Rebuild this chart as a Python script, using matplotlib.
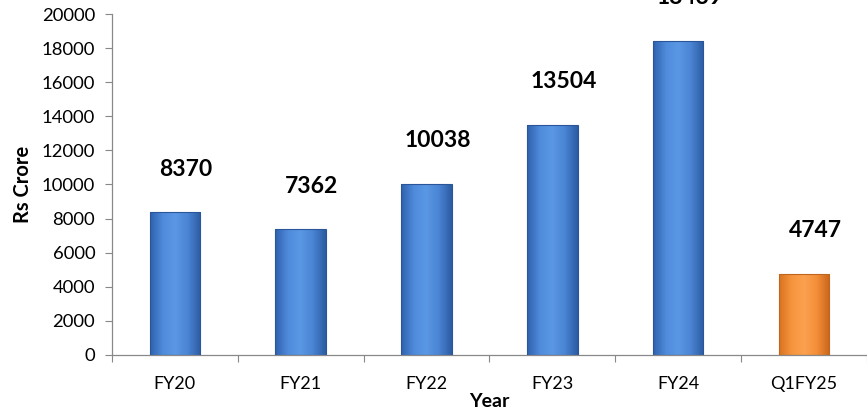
import numpy as np
import matplotlib.pyplot as plt
from matplotlib.colors import LinearSegmentedColormap

# Values (Rs Crore per year)
YEARS = ['FY20', 'FY21', 'FY22', 'FY23', 'FY24', 'Q1FY25']
VALUES = [8370, 7362, 10038, 13504, 18439, 4747]
YTICKS = [0, 2000, 4000, 6000, 8000, 10000, 12000, 14000, 16000, 18000, 20000]

BLUE_SHADES = ['#2F62AE', '#4F8BDB', '#5A97E4', '#4A84D4', '#2C5CA3']
ORANGE_SHADES = ['#D9731F', '#F7953F', '#FBA14F', '#F38E39', '#C9661A']

plt.rcParams['font.family'] = ['Lato', 'DejaVu Sans']


def shade_bar(ax, bar, shades):
    """Fill a bar patch with a left-to-right cylinder-like gradient."""
    cmap = LinearSegmentedColormap.from_list('bar', shades)
    x0, y0 = bar.get_x(), bar.get_y()
    w, h = bar.get_width(), bar.get_height()
    grad = np.linspace(0, 1, 64).reshape(1, -1)
    im = ax.imshow(grad, cmap=cmap, aspect='auto', interpolation='bicubic',
                   extent=(x0, x0 + w, y0, y0 + h), zorder=2)
    im.set_clip_path(bar)


fig = plt.figure(figsize=(8.67, 4.18), dpi=100)
ax = fig.add_axes([0.129, 0.151, 0.871, 0.8155])

x = np.arange(len(YEARS))
bars = ax.bar(x, VALUES, width=0.4, color='none',
              edgecolor='#2A5699', linewidth=0.8, zorder=3)

for i, bar in enumerate(bars):
    shades = ORANGE_SHADES if YEARS[i] == 'Q1FY25' else BLUE_SHADES
    if YEARS[i] == 'Q1FY25':
        bar.set_edgecolor('#C0651E')
    shade_bar(ax, bar, shades)
    ax.annotate(f'{VALUES[i]}', (bar.get_x() + bar.get_width() / 2, VALUES[i]),
                xytext=(11, 43), textcoords='offset pixels',
                ha='center', va='center', fontsize=16.5, fontweight='bold',
                color='black', annotation_clip=False)

ax.set_xlim(-0.5, len(YEARS) - 0.5)
ax.set_ylim(0, 20000)
ax.set_yticks(YTICKS)
ax.tick_params(axis='y', labelsize=13.3, length=5, width=0.8,
               color='#888888', pad=7)

# category labels at centres, tick marks at category boundaries
ax.set_xticks(x)
ax.set_xticklabels(YEARS)
ax.set_xticks(np.arange(-0.5, len(YEARS) + 0.5, 1), minor=True)
ax.tick_params(axis='x', which='major', length=0, labelsize=13, pad=15)
ax.tick_params(axis='x', which='minor', length=5, width=0.8, color='#888888')

for side in ['top', 'right']:
    ax.spines[side].set_visible(False)
for side in ['left', 'bottom']:
    ax.spines[side].set_color('#888888')
    ax.spines[side].set_linewidth(0.9)

ax.set_ylabel('Rs Crore', fontsize=14.5, fontweight='bold', labelpad=6)
ax.set_xlabel('Year', fontsize=14, fontweight='bold', labelpad=1)

fig.savefig('out.png', dpi=100)
